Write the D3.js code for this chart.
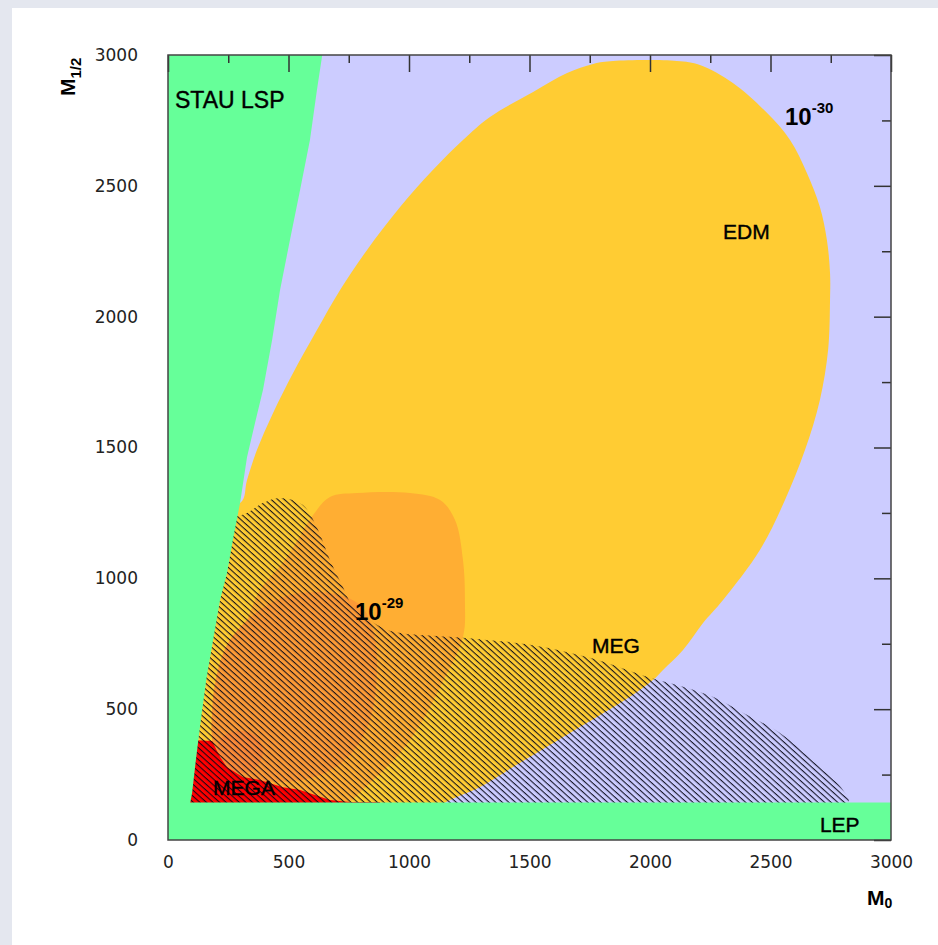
<!DOCTYPE html>
<html><head><meta charset="utf-8">
<script src="https://cdn.jsdelivr.net/npm/d3@7"></script>
<style>html,body{margin:0;padding:0;background:#e4e7ef;overflow:hidden}svg{display:block}</style>
</head><body>
<svg id="chart" width="938" height="945"></svg>
<script>
// ---- data (M0, M1/2 in GeV) ----
const xTickValues = [0, 500, 1000, 1500, 2000, 2500, 3000];
const yTickValues = [0, 500, 1000, 1500, 2000, 2500, 3000];
const minorTickValues = [250, 750, 1250, 1750, 2250, 2750];
const lepLimit = 143;
const stauEdge = [[640,3000],[618,2866],[589,2675],[548,2484],[506,2293],[465,2102],[432,1911],[394,1720],[361,1594],[328,1464],[299,1288],[270,1150],[245,1020],[216,917],[190,780],[160,620],[135,450],[115,300],[100,180],[92,140]];
const edm30Boundary = [[299,1288],[328,1376],[369,1490],[436,1632],[519,1785],[618,1949],[714,2102],[826,2255],[963,2419],[1100,2561],[1224,2675],[1336,2763],[1515,2859],[1656,2931],[1764,2966],[1847,2977],[2112,2977],[2207,2962],[2344,2893],[2486,2778],[2581,2675],[2651,2549],[2705,2419],[2734,2293],[2747,2167],[2747,2064],[2739,1873],[2705,1682],[2643,1490],[2560,1299],[2456,1108],[2303,917],[2220,829],[2137,726],[2054,650],[2012,611],[1917,547],[1780,470],[1668,409],[1432,279],[1295,203],[1170,153],[1129,130],[1100,100],[0,100],[0,1288]];
const edm29Boundary = [[602,1242],[672,1311],[784,1326],[1004,1326],[1129,1299],[1191,1223],[1224,1070],[1232,917],[1224,776],[1129,585],[1058,459],[963,332],[851,229],[755,145],[700,100],[145,100],[145,153],[174,344],[224,535],[278,726],[328,841],[382,955],[494,1082]];
const edm28Boundary = [[257,764],[369,871],[506,936],[672,944],[797,898],[851,803],[867,650],[838,459],[755,325],[631,248],[465,222],[299,248],[195,344],[183,497],[207,650]];
const edm27Boundary = [[207,363],[237,401],[299,417],[361,401],[394,344],[374,287],[320,256],[249,268],[212,313]];
const megaBoundary = [[104,382],[183,378],[216,317],[245,278],[311,241],[382,229],[477,202],[548,191],[672,153],[755,145],[880,145],[880,100],[60,100],[60,382]];
const megBoundary = [[300,1240],[394,1288],[465,1307],[560,1280],[620,1190],[672,1070],[726,967],[768,890],[830,845],[921,800],[1224,773],[1502,746],[1780,689],[1987,624],[2137,586],[2261,547],[2386,486],[2539,409],[2676,306],[2801,191],[2822,143],[0,143],[0,1240]];
const regionLabels = [
  {text:"STAU LSP", x:29, y:2797, sup:null, size:23},
  {text:"EDM", x:2303, y:2297, sup:null, size:21},
  {text:"MEG", x:1759, y:715, sup:null, size:21},
  {text:"MEGA", x:187, y:172, sup:null, size:21},
  {text:"LEP", x:2705, y:31, sup:null, size:21},
  {text:"10", x:2560, y:2732, sup:"-30", size:24},
  {text:"10", x:776, y:841, sup:"-29", size:24}
];

// ---- drawing ----
const svg = d3.select("#chart");
const x = d3.scaleLinear().domain([0, 3000]).range([168, 891]);
const y = d3.scaleLinear().domain([0, 3000]).range([840, 55]);
const line = d3.line().x(d => x(d[0])).y(d => y(d[1])).curve(d3.curveLinearClosed);
const smooth = d3.line().x(d => x(d[0])).y(d => y(d[1])).curve(d3.curveCatmullRomClosed.alpha(0.5));

svg.append("rect").attr("x", 12).attr("y", 8).attr("width", 926).attr("height", 937).attr("fill", "#ffffff");

const defs = svg.append("defs");
defs.append("clipPath").attr("id", "plotclip").append("rect")
  .attr("x", x(0)).attr("y", y(3000)).attr("width", x(3000) - x(0)).attr("height", y(0) - y(3000));
const pat = defs.append("pattern").attr("id", "hatch").attr("patternUnits", "userSpaceOnUse")
  .attr("width", 40).attr("height", 4.4).attr("patternTransform", "rotate(42)");
pat.append("rect").attr("x", 0).attr("y", 0).attr("width", 40).attr("height", 1.1).attr("fill", "#080818").attr("fill-opacity", 0.92);

const plot = svg.append("g").attr("clip-path", "url(#plotclip)");
plot.append("rect").attr("x", x(0)).attr("y", y(3000)).attr("width", x(3000) - x(0)).attr("height", y(0) - y(3000)).attr("fill", "#ccccff");

// inner ticks on top and right
const tickG = svg.append("g");
function innerAxis(axisFn, translate, values, size) {
  const g = tickG.append("g").attr("transform", translate)
    .call(axisFn.tickValues(values).tickSize(size).tickFormat(""));
  g.select(".domain").remove();
  g.selectAll("line").attr("stroke", "#333").attr("stroke-width", 1.5);
}
innerAxis(d3.axisBottom(x), `translate(0,${y(3000)})`, xTickValues, 17);
innerAxis(d3.axisBottom(x), `translate(0,${y(3000)})`, minorTickValues, 8);
innerAxis(d3.axisLeft(y), `translate(${x(3000)},0)`, yTickValues, 17);
innerAxis(d3.axisLeft(y), `translate(${x(3000)},0)`, minorTickValues, 9);

// regions
plot.append("path").attr("d", smooth(edm30Boundary)).attr("fill", "#ffcc33");
plot.append("path").attr("d", smooth(edm29Boundary)).attr("fill", "#ffae33");
plot.append("path").attr("d", smooth(edm28Boundary)).attr("fill", "#fc9a36");
plot.append("path").attr("d", smooth(edm27Boundary)).attr("fill", "#fa8a38");
plot.append("path").attr("d", line(megaBoundary)).attr("fill", "#ff0000");
plot.append("path").attr("d", smooth(megBoundary)).attr("fill", "url(#hatch)");
const stauPoly = [[0,3000]].concat(stauEdge, [[92,0],[0,0]]);
plot.append("path").attr("d", line(stauPoly)).attr("fill", "#66ff99");
const lepPoly = [[0,0],[3000,0],[3000,lepLimit],[0,lepLimit]];
plot.append("path").attr("d", line(lepPoly)).attr("fill", "#66ff99");

// frame
svg.append("rect").attr("x", x(0)).attr("y", y(3000)).attr("width", x(3000) - x(0)).attr("height", y(0) - y(3000))
  .attr("fill", "none").attr("stroke", "#444").attr("stroke-width", 1.5);

// tick labels
const xAxisG = svg.append("g").attr("transform", `translate(0,${y(0)})`)
  .call(d3.axisBottom(x).tickValues(xTickValues).tickSize(0).tickPadding(16).tickFormat(d3.format("d")));
const yAxisG = svg.append("g").attr("transform", `translate(${x(0)},0)`)
  .call(d3.axisLeft(y).tickValues(yTickValues).tickSize(0).tickPadding(30).tickFormat(d3.format("d")));
[xAxisG, yAxisG].forEach(g => {
  g.select(".domain").remove();
  g.selectAll("text").attr("font-family", "DejaVu Sans, sans-serif").attr("font-size", 17).attr("fill", "#222");
});

// region labels
regionLabels.forEach(l => {
  const bold = !!l.sup;
  const t = svg.append("text").attr("x", x(l.x)).attr("y", y(l.y))
    .attr("font-family", "Liberation Sans, Arial, sans-serif")
    .attr("font-size", l.size).attr("font-weight", bold ? "bold" : "normal").attr("fill", "#000")
    .attr("stroke", bold ? "none" : "#000").attr("stroke-width", 0.4);
  t.append("tspan").text(l.text);
  if (l.sup) t.append("tspan").attr("dy", -12).attr("font-size", 15).text(l.sup);
});

// axis titles
const mx = svg.append("text").attr("x", 867).attr("y", 905)
  .attr("font-family", "Liberation Sans, Arial, sans-serif").attr("font-weight", "bold").attr("font-size", 21);
mx.append("tspan").text("M");
mx.append("tspan").attr("dy", 3).attr("font-size", 14).text("0");
const my = svg.append("text").attr("transform", "translate(75,96) rotate(-90)")
  .attr("font-family", "Liberation Sans, Arial, sans-serif").attr("font-weight", "bold").attr("font-size", 21);
my.append("tspan").text("M");
my.append("tspan").attr("dy", 6).attr("font-size", 15).text("1/2");
</script>
</body></html>
